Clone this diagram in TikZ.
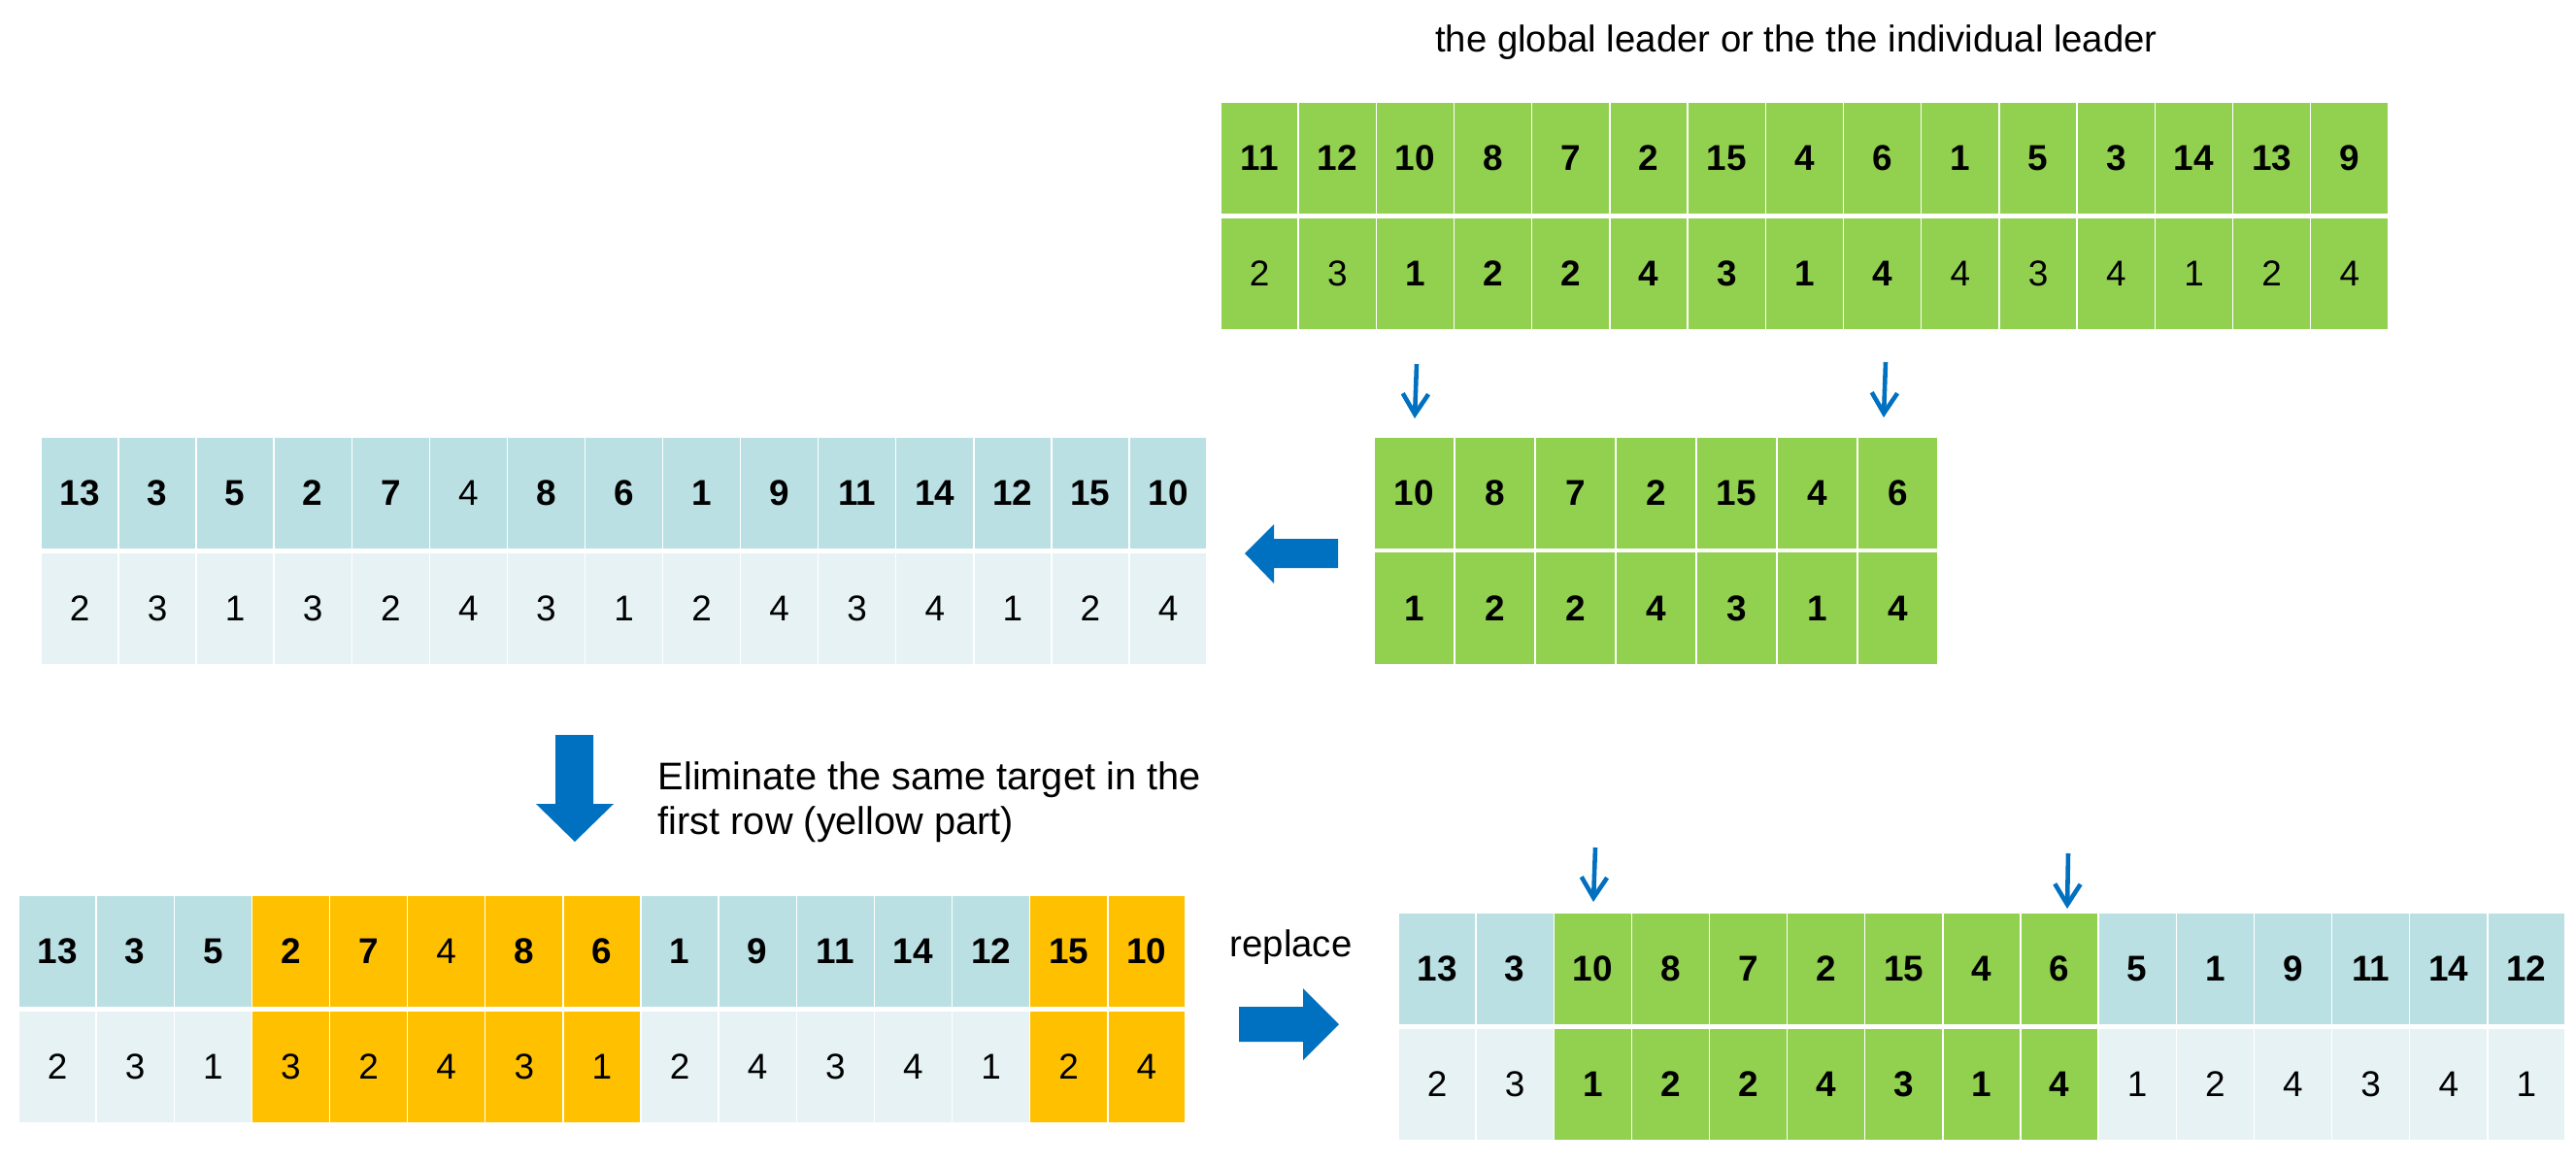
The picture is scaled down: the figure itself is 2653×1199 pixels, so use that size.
\documentclass[tikz,border=0pt]{standalone}
\usepackage{fontspec}
\setmainfont{Liberation Sans}
\usetikzlibrary{arrows.meta}
\definecolor{cgreen}{HTML}{92D050}
\definecolor{cblue}{HTML}{BBE0E3}
\definecolor{clight}{HTML}{E6F2F4}
\definecolor{cyel}{HTML}{FFC000}
\definecolor{carrow}{HTML}{0070C0}
\newcommand\dB{\bfseries}
\newcommand\dR{\mdseries}
\begin{document}
\begin{tikzpicture}[x=0.01cm,y=-0.01cm,
  cell/.style={rectangle, inner sep=0pt, minimum height=1.16cm, draw=white, line width=0.4pt,
               font=\fontsize{10.5}{12}\selectfont},
  thinarrow/.style={draw=carrow, line width=1.3pt, -{Straight Barb[length=6pt,width=7.5pt]}},
  blockarrow/.style={fill=carrow},
  txt/.style={inner sep=0pt, font=\fontsize{10.9}{13.4}\selectfont}]
\useasboundingbox (0,0) rectangle (2653,1199);

% ---------- top green grid ----------
\foreach \v/\c/\f [count=\i] in {11/cgreen/\dB,12/cgreen/\dB,10/cgreen/\dB,8/cgreen/\dB,7/cgreen/\dB,2/cgreen/\dB,15/cgreen/\dB,4/cgreen/\dB,6/cgreen/\dB,1/cgreen/\dB,5/cgreen/\dB,3/cgreen/\dB,14/cgreen/\dB,13/cgreen/\dB,9/cgreen/\dB}
  \node[cell, minimum width=0.802cm, fill=\c] (g1a\i) at ({1257+(\i-0.5)*80.2},163) {\f\v};
\foreach \v/\c/\f [count=\i] in {2/cgreen/\dR,3/cgreen/\dR,1/cgreen/\dB,2/cgreen/\dB,2/cgreen/\dB,4/cgreen/\dB,3/cgreen/\dB,1/cgreen/\dB,4/cgreen/\dB,4/cgreen/\dR,3/cgreen/\dR,4/cgreen/\dR,1/cgreen/\dR,2/cgreen/\dR,4/cgreen/\dR}
  \node[cell, minimum width=0.802cm, fill=\c] (g1b\i) at ({1257+(\i-0.5)*80.2},282) {\f\v};

% ---------- middle green grid ----------
\foreach \v/\c/\f [count=\i] in {10/cgreen/\dB,8/cgreen/\dB,7/cgreen/\dB,2/cgreen/\dB,15/cgreen/\dB,4/cgreen/\dB,6/cgreen/\dB}
  \node[cell, minimum width=0.83cm, fill=\c] (g2a\i) at ({1415+(\i-0.5)*83},508) {\f\v};
\foreach \v/\c/\f [count=\i] in {1/cgreen/\dB,2/cgreen/\dB,2/cgreen/\dB,4/cgreen/\dB,3/cgreen/\dB,1/cgreen/\dB,4/cgreen/\dB}
  \node[cell, minimum width=0.83cm, fill=\c] (g2b\i) at ({1415+(\i-0.5)*83},626.5) {\f\v};

% ---------- middle left grid ----------
\foreach \v/\c/\f [count=\i] in {13/cblue/\dB,3/cblue/\dB,5/cblue/\dB,2/cblue/\dB,7/cblue/\dB,4/cblue/\dR,8/cblue/\dB,6/cblue/\dB,1/cblue/\dB,9/cblue/\dB,11/cblue/\dB,14/cblue/\dB,12/cblue/\dB,15/cblue/\dB,10/cblue/\dB}
  \node[cell, minimum width=0.8007cm, fill=\c] (g3a\i) at ({42+(\i-0.5)*80.07},508) {\f\v};
\foreach \v/\c/\f [count=\i] in {2/clight/\dR,3/clight/\dR,1/clight/\dR,3/clight/\dR,2/clight/\dR,4/clight/\dR,3/clight/\dR,1/clight/\dR,2/clight/\dR,4/clight/\dR,3/clight/\dR,4/clight/\dR,1/clight/\dR,2/clight/\dR,4/clight/\dR}
  \node[cell, minimum width=0.8007cm, fill=\c] (g3b\i) at ({42+(\i-0.5)*80.07},627) {\f\v};

% ---------- bottom left grid ----------
\foreach \v/\c/\f [count=\i] in {13/cblue/\dB,3/cblue/\dB,5/cblue/\dB,2/cyel/\dB,7/cyel/\dB,4/cyel/\dR,8/cyel/\dB,6/cyel/\dB,1/cblue/\dB,9/cblue/\dB,11/cblue/\dB,14/cblue/\dB,12/cblue/\dB,15/cyel/\dB,10/cyel/\dB}
  \node[cell, minimum width=0.8013cm, fill=\c] (g4a\i) at ({19+(\i-0.5)*80.13},980) {\f\v};
\foreach \v/\c/\f [count=\i] in {2/clight/\dR,3/clight/\dR,1/clight/\dR,3/cyel/\dR,2/cyel/\dR,4/cyel/\dR,3/cyel/\dR,1/cyel/\dR,2/clight/\dR,4/clight/\dR,3/clight/\dR,4/clight/\dR,1/clight/\dR,2/cyel/\dR,4/cyel/\dR}
  \node[cell, minimum width=0.8013cm, fill=\c] (g4b\i) at ({19+(\i-0.5)*80.13},1099) {\f\v};

% ---------- bottom right grid ----------
\foreach \v/\c/\f [count=\i] in {13/cblue/\dB,3/cblue/\dB,10/cgreen/\dB,8/cgreen/\dB,7/cgreen/\dB,2/cgreen/\dB,15/cgreen/\dB,4/cgreen/\dB,6/cgreen/\dB,5/cblue/\dB,1/cblue/\dB,9/cblue/\dB,11/cblue/\dB,14/cblue/\dB,12/cblue/\dB}
  \node[cell, minimum width=0.8013cm, fill=\c] (g5a\i) at ({1440+(\i-0.5)*80.13},998) {\f\v};
\foreach \v/\c/\f [count=\i] in {2/clight/\dR,3/clight/\dR,1/cgreen/\dB,2/cgreen/\dB,2/cgreen/\dB,4/cgreen/\dB,3/cgreen/\dB,1/cgreen/\dB,4/cgreen/\dB,1/clight/\dR,2/clight/\dR,4/clight/\dR,3/clight/\dR,4/clight/\dR,1/clight/\dR}
  \node[cell, minimum width=0.8013cm, fill=\c] (g5b\i) at ({1440+(\i-0.5)*80.13},1117) {\f\v};

% ---------- texts ----------
\node[txt, anchor=base] (t1) at (1850,53) {the global leader or the the individual leader};
\node[txt, anchor=north west, align=left, font=\fontsize{11.3}{13.2}\selectfont] (t2) at (677,784) {Eliminate the same target in the\\first row (yellow part)};
\node[txt, anchor=base west] (t3) at (1266,985) {replace};

% ---------- small arrows ----------
\coordinate (a1s) at (1459,375); \coordinate (a1e) at (1457,431);
\coordinate (a2s) at (1942,373); \coordinate (a2e) at (1940,430);
\coordinate (a3s) at (1643,873); \coordinate (a3e) at (1641,929);
\coordinate (a4s) at (2130,879); \coordinate (a4e) at (2129,936);
\draw[thinarrow] (a1s) -- (a1e);
\draw[thinarrow] (a2s) -- (a2e);
\draw[thinarrow] (a3s) -- (a3e);
\draw[thinarrow] (a4s) -- (a4e);

% ---------- block arrows ----------
\fill[blockarrow] (1378,555) -- (1312,555) -- (1312,540) -- (1282,570) -- (1312,601) -- (1312,585) -- (1378,585) -- cycle;
\fill[blockarrow] (572,757) -- (611,757) -- (611,828) -- (632,828) -- (592,867) -- (552,828) -- (572,828) -- cycle;
\fill[blockarrow] (1276,1037) -- (1342,1037) -- (1342,1018) -- (1379,1055) -- (1342,1092) -- (1342,1073) -- (1276,1073) -- cycle;
\end{tikzpicture}
\end{document}
